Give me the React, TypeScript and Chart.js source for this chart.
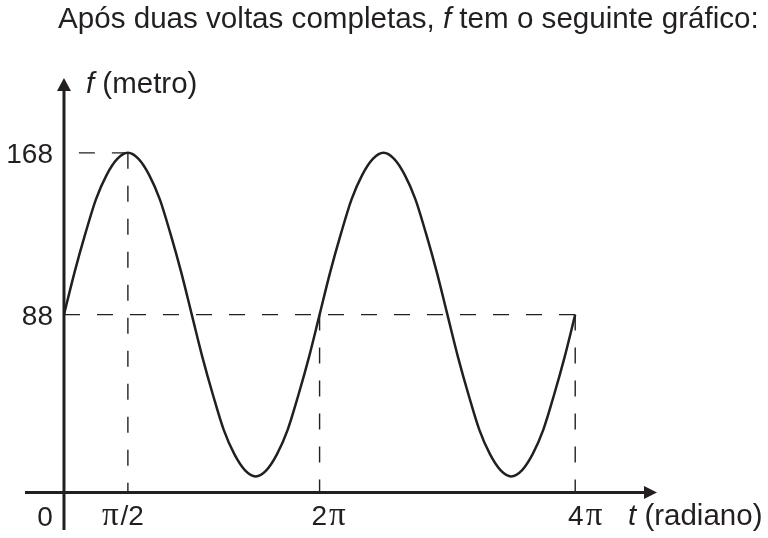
import React, { useEffect, useRef } from "react";
import { Chart, registerables } from "chart.js";

Chart.register(...registerables);

// t in units of π (radians / π)
const tPi = [
  0, 0.083, 0.167, 0.25, 0.333, 0.417, 0.5, 0.583, 0.667, 0.75, 0.833, 0.917,
  1, 1.083, 1.167, 1.25, 1.333, 1.417, 1.5, 1.583, 1.667, 1.75, 1.833, 1.917,
  2, 2.083, 2.167, 2.25, 2.333, 2.417, 2.5, 2.583, 2.667, 2.75, 2.833, 2.917,
  3, 3.083, 3.167, 3.25, 3.333, 3.417, 3.5, 3.583, 3.667, 3.75, 3.833, 3.917,
  4,
];
// f (metro)
const fMetro = [
  88, 109, 128, 145, 157, 165, 168, 165, 157, 145, 128, 109,
  88, 67, 48, 31, 19, 11, 8, 11, 19, 31, 48, 67,
  88, 109, 128, 145, 157, 165, 168, 165, 157, 145, 128, 109,
  88, 67, 48, 31, 19, 11, 8, 11, 19, 31, 48, 67,
  88,
];

const yTickValues = [168, 88];
const yTickLabels = ["168", "88"];
const xTickValues = [0.5, 2, 4];
const xTickLabels = ["π/2", "2π", "4π"];
const originLabel = "0";

// dashed guides: horizontal [y, xFrom, xTo], vertical [x, yTop]
const hGuides = [
  [168, 0.5, 0],
  [88, 0, 4],
];
const vGuides = [
  [0.5, 168],
  [2, 88],
  [4, 88],
];

const titleBefore = "Após duas voltas completas, ";
const titleItalic = "f";
const titleAfter = " tem o seguinte gráfico:";
const yAxisName = "f";
const yAxisUnit = "(metro)";
const xAxisName = "t";
const xAxisUnit = "(radiano)";

const X_MIN = -0.305;
const X_MAX = 4.64;
const Y_MIN = -18.5;
const Y_MAX = 205;

// small label nudges (px) to match the typeset layout
const X_LABEL_NUDGE = [-5, 9, 10];

const INK = "#231f20";
const SANS = '"Liberation Sans", Arial, Helvetica, sans-serif';
const SERIF = '"Liberation Serif", "Times New Roman", serif';

type Run = { text: string; font: string };

function splitPi(label: string, size: number): Run[] {
  const runs: Run[] = [];
  for (const ch of label) {
    const font = ch === "π" ? `${size + 5}px ${SERIF}` : `${size}px ${SANS}`;
    const last = runs[runs.length - 1];
    if (last && last.font === font) last.text += ch;
    else runs.push({ text: ch, font });
  }
  return runs;
}

function drawRuns(
  ctx: CanvasRenderingContext2D,
  runs: Run[],
  x: number,
  y: number,
  align: "left" | "center" | "right",
  gap = 0
) {
  let total = 0;
  for (const r of runs) {
    ctx.font = r.font;
    total += ctx.measureText(r.text).width;
  }
  total += gap * (runs.length - 1);
  let cx = align === "left" ? x : align === "center" ? x - total / 2 : x - total;
  ctx.textAlign = "left";
  for (const r of runs) {
    ctx.font = r.font;
    ctx.fillText(r.text, cx, y);
    cx += ctx.measureText(r.text).width + gap;
  }
}

const decorPlugin = {
  id: "decor",
  beforeDatasetsDraw(chart: any) {
    const ctx: CanvasRenderingContext2D = chart.ctx;
    const xs = chart.scales.x;
    const ys = chart.scales.y;
    const x0 = xs.getPixelForValue(0);
    const y0 = ys.getPixelForValue(0);
    ctx.save();
    ctx.strokeStyle = INK;
    ctx.lineWidth = 1.4;
    ctx.setLineDash([16, 17]);
    for (const [yv, xa, xb] of hGuides) {
      ctx.beginPath();
      ctx.moveTo(xs.getPixelForValue(xa), ys.getPixelForValue(yv));
      ctx.lineTo(xs.getPixelForValue(xb), ys.getPixelForValue(yv));
      ctx.stroke();
    }
    for (const [xv, yt] of vGuides) {
      ctx.beginPath();
      ctx.moveTo(xs.getPixelForValue(xv), ys.getPixelForValue(yt));
      ctx.lineTo(xs.getPixelForValue(xv), y0);
      ctx.stroke();
    }
    ctx.setLineDash([]);
    // axes
    ctx.lineWidth = 3;
    const xEnd = xs.getPixelForValue(X_MAX);
    const yEnd = ys.getPixelForValue(Y_MAX);
    ctx.beginPath();
    ctx.moveTo(xs.getPixelForValue(X_MIN), y0);
    ctx.lineTo(xEnd - 8, y0);
    ctx.stroke();
    ctx.beginPath();
    ctx.moveTo(x0, ys.getPixelForValue(Y_MIN));
    ctx.lineTo(x0, yEnd + 8);
    ctx.stroke();
    ctx.fillStyle = INK;
    ctx.beginPath();
    ctx.moveTo(xEnd, y0);
    ctx.lineTo(xEnd - 13, y0 - 6.5);
    ctx.lineTo(xEnd - 13, y0 + 6.5);
    ctx.closePath();
    ctx.fill();
    ctx.beginPath();
    ctx.moveTo(x0, yEnd);
    ctx.lineTo(x0 - 7, yEnd + 13);
    ctx.lineTo(x0 + 7, yEnd + 13);
    ctx.closePath();
    ctx.fill();
    ctx.restore();
  },
  afterDraw(chart: any) {
    const ctx: CanvasRenderingContext2D = chart.ctx;
    const xs = chart.scales.x;
    const ys = chart.scales.y;
    const x0 = xs.getPixelForValue(0);
    const y0 = ys.getPixelForValue(0);
    ctx.save();
    ctx.fillStyle = INK;
    ctx.textBaseline = "alphabetic";
    // title
    drawRuns(
      ctx,
      [
        { text: titleBefore, font: `29.6px ${SANS}` },
        { text: titleItalic, font: `italic 29.6px ${SANS}` },
        { text: titleAfter, font: `29.6px ${SANS}` },
      ],
      58,
      28,
      "left"
    );
    // y ticks
    yTickValues.forEach((v, i) => {
      drawRuns(ctx, splitPi(yTickLabels[i], 28), x0 - 11, ys.getPixelForValue(v) + 10, "right");
    });
    // x ticks
    xTickValues.forEach((v, i) => {
      drawRuns(
        ctx,
        splitPi(xTickLabels[i], 28),
        xs.getPixelForValue(v) + X_LABEL_NUDGE[i],
        y0 + 32,
        "center",
        2
      );
    });
    drawRuns(ctx, splitPi(originLabel, 28), x0 - 19, y0 + 33, "center");
    // axis names
    drawRuns(
      ctx,
      [
        { text: yAxisName + " ", font: `italic 29.5px ${SANS}` },
        { text: yAxisUnit, font: `29.5px ${SANS}` },
      ],
      x0 + 22,
      93,
      "left"
    );
    drawRuns(
      ctx,
      [
        { text: xAxisName + " ", font: `italic 29.5px ${SANS}` },
        { text: xAxisUnit, font: `29.5px ${SANS}` },
      ],
      628,
      y0 + 32,
      "left"
    );
    ctx.restore();
  },
};

export default function App() {
  const ref = useRef<HTMLCanvasElement | null>(null);
  useEffect(() => {
    if (!ref.current) return;
    const chart = new Chart(ref.current, {
      type: "line",
      data: {
        datasets: [
          {
            data: tPi.map((t, i) => ({ x: t, y: fMetro[i] })),
            borderColor: INK,
            borderWidth: 2.5,
            pointRadius: 0,
            fill: false,
            cubicInterpolationMode: "monotone",
          },
        ],
      },
      options: {
        animation: false,
        responsive: false,
        devicePixelRatio: 1,
        layout: { padding: { left: 25, right: 111, top: 78, bottom: 8 } },
        plugins: { legend: { display: false }, tooltip: { enabled: false }, title: { display: false } },
        scales: {
          x: { type: "linear", min: X_MIN, max: X_MAX, display: false },
          y: { type: "linear", min: Y_MIN, max: Y_MAX, display: false },
        },
      },
      plugins: [decorPlugin],
    });
    return () => chart.destroy();
  }, []);
  return (
    <div style={{ position: "fixed", left: 0, top: 0, width: 768, height: 538, background: "#fff" }}>
      <canvas ref={ref} width={768} height={538} style={{ display: "block" }} />
    </div>
  );
}
